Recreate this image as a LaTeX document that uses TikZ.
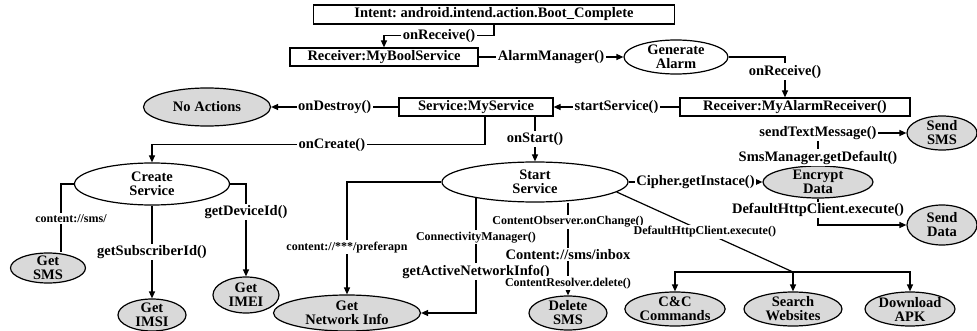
\documentclass[tikz,border=0pt]{standalone}
\usepackage{fontspec}
\setmainfont{Liberation Serif}
\frenchspacing
\usetikzlibrary{shapes.geometric, arrows.meta}
\newcommand{\lblfont}{\fontsize{14.5}{14}\selectfont\bfseries}
\newcommand{\smlfont}{\fontsize{12}{12}\selectfont\bfseries}
\tikzstyle{process} = [rectangle, minimum height=18pt, inner sep=0pt, text centered, draw=black, line width=1.2pt, fill=white]
\tikzstyle{event} = [ellipse, inner xsep=0pt, inner ysep=-4pt, align=center, draw=black, line width=1.2pt, fill=white]
\tikzstyle{leaf} = [event, fill=black!15]
\tikzstyle{note} = [font=\smlfont]
\tikzstyle{wire} = [line width=1.2pt]
\tikzstyle{arrow} = [wire, ->, >={Triangle[length=7pt, width=6pt]}]

\begin{document}
\begin{tikzpicture}[node distance=50pt, every node/.style={fill=white, inner sep=1.5pt, font=\lblfont}]
\useasboundingbox (-494pt,14.5pt) rectangle (483pt,-316.5pt);

\node (intent) [process, minimum width=361pt, minimum height=19pt] {Intent: android.intend.action.Boot\_Complete};
\node (boolrcv) [process, minimum width=188pt, below of=intent, xshift=-110pt, yshift=7.5pt] {Receiver:MyBoolService};
\node (alarm) [event, minimum width=104pt, minimum height=34pt, right of=boolrcv, xshift=242pt] {Generate\\Alarm};
\node (alarmrcv) [process, minimum width=230pt, below of=alarm, xshift=119pt] {Receiver:MyAlarmReceiver()};
\node (service) [process, minimum width=154pt, left of=alarmrcv, xshift=-269pt] {Service:MyService};
\node (noact) [leaf, minimum width=127pt, minimum height=38pt, left of=service, xshift=-219pt] {No Actions};
\node (create) [event, minimum width=155pt, minimum height=42pt, below of=noact, xshift=-55pt, yshift=-27pt] {Create\\Service};
\node (start) [event, minimum width=186pt, minimum height=40pt, below of=service, xshift=59pt, yshift=-25pt] {Start\\Service};

\node (getsms) [leaf, minimum width=75pt, minimum height=30pt, below of=create, xshift=-104pt, yshift=-34pt] {Get\\SMS};
\node (imsi) [leaf, minimum width=68pt, minimum height=32pt, below of=create, yshift=-81pt] {Get\\IMSI};
\node (imei) [leaf, minimum width=66pt, minimum height=36pt, below of=create, xshift=94pt, yshift=-61pt] {Get\\IMEI};

\node (netinfo) [leaf, minimum width=147pt, minimum height=36pt, below of=start, xshift=-188pt, yshift=-81pt] {Get\\Network Info};
\node (delsms) [leaf, minimum width=78pt, minimum height=34pt, below of=start, xshift=33pt, yshift=-81pt] {Delete\\SMS};
\node (cnc) [leaf, minimum width=95pt, minimum height=34pt, below of=start, xshift=140pt, yshift=-77pt] {C\&C\\Commands};
\node (search) [leaf, minimum width=98pt, minimum height=34pt, right of=cnc, xshift=68pt] {Search\\Websites};
\node (apk) [leaf, minimum width=90pt, minimum height=34pt, right of=search, xshift=67pt] {Download\\APK};
\node (fork) [coordinate, above of=search, yshift=-13pt] {};

\node (encrypt) [leaf, minimum width=110pt, minimum height=32pt, right of=start, xshift=233pt] {Encrypt\\Data};
\node (sendsms) [leaf, minimum width=70pt, minimum height=34pt, right of=encrypt, xshift=74pt, yshift=49pt] {Send\\SMS};
\node (senddata) [leaf, minimum width=70pt, minimum height=40pt, right of=encrypt, xshift=74pt, yshift=-43pt] {Send\\Data};

\draw [arrow] (intent.south) -- ++(0,-11pt) -| node[pos=0.25] {onReceive()} (boolrcv.north);
\draw [arrow] (boolrcv) -- node {AlarmManager()} (alarm);
\draw [arrow] (alarm.east) -| node[pos=0.68] {onReceive()} ([xshift=-10pt]alarmrcv.north);
\draw [arrow] (alarmrcv) -- node {startService()} (service);
\draw [arrow] (service) -- node {onDestroy()} (noact);

\draw [arrow] ([xshift=9pt]service.south) -- ++(0,-28pt) -| node[pos=0.23] {onCreate()} (create.north);
\draw [arrow] (start.north |- service.south) -- node {onStart()} (start.north);

\draw [wire] (create.west) -| node[note, pos=0.75, xshift=10pt] {content://sms/} ([xshift=13pt]getsms.north);
\draw [arrow] (create) -- node {getSubscriberId()} (imsi);
\draw [arrow] (create.east) -| node[pos=0.65] {getDeviceId()} (imei.north);

\draw [arrow] (start.west) -| node[note, pos=0.79] {content://***/preferapn} (netinfo.north);
\draw [arrow] ([xshift=-59pt, yshift=4.5pt]start.south) |- node[note, pos=0.17] {ConnectivityManager()} node[pos=0.32] {getActiveNetworkInfo()} (netinfo.east);
\draw [arrow] (delsms.north |- start.south) -- node[note, pos=0.21] {ContentObserver.onChange()} node[pos=0.56] {Content://sms/inbox} node[note, pos=0.87] {ContentResolver.delete()} (delsms.north);

\draw [arrow] (start) -- node {Cipher.getInstace()} (encrypt);
\draw [arrow] (encrypt.north) |- node[pos=0.12] {SmsManager.getDefault()} node[pos=0.5] {sendTextMessage()} (sendsms.west);
\draw [arrow] (encrypt.south) |- node[pos=0.22] {DefaultHttpClient.execute()} (senddata.west);

\draw [wire] (start.-7) -- node[note] {DefaultHttpClient.execute()} (fork);
\draw [arrow] (fork) -- (search);
\draw [arrow] (fork) -| (cnc);
\draw [arrow] (fork) -| (apk);

\end{tikzpicture}
\end{document}
